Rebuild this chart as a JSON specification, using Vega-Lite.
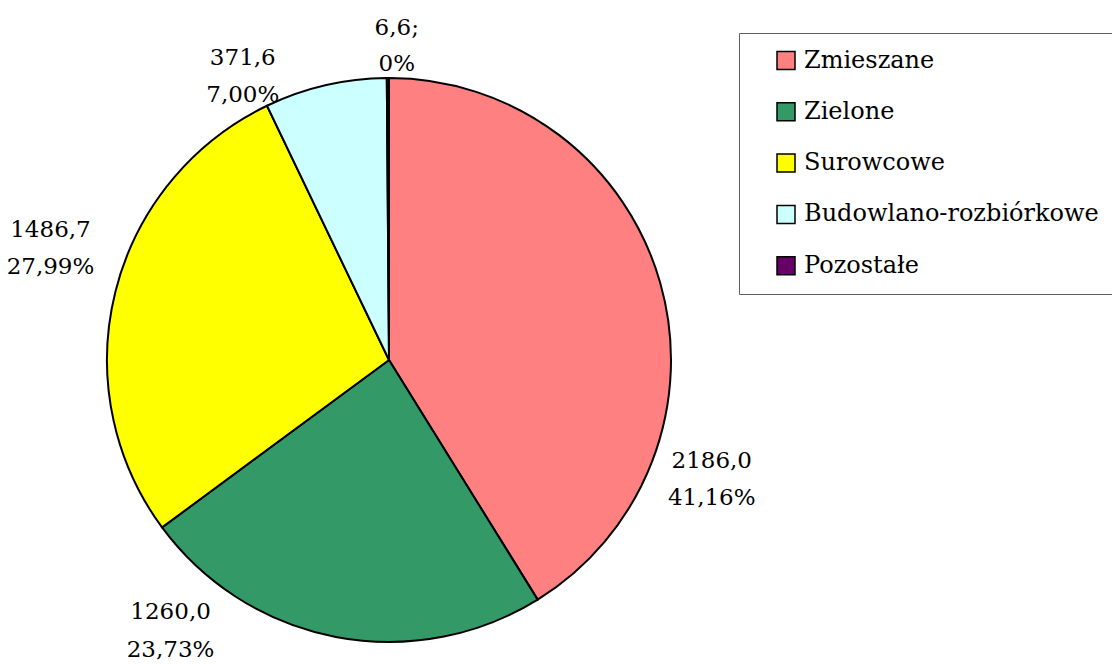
{
  "$schema": "https://vega.github.io/schema/vega-lite/v6.json",
  "width": 564,
  "height": 564,
  "autosize": {"type": "none"},
  "padding": {"left": 107, "top": 78, "right": 441, "bottom": 22},
  "background": "white",
  "data": {
    "values": [
      {"cat": "Zmieszane", "value": 2186.0, "ord": 1, "lbl": ["2186,0", "41,16%"]},
      {"cat": "Zielone", "value": 1260.0, "ord": 2, "lbl": ["1260,0", "23,73%"]},
      {"cat": "Surowcowe", "value": 1486.7, "ord": 3, "lbl": ["1486,7", "27,99%"]},
      {"cat": "Budowlano-rozbiórkowe", "value": 371.6, "ord": 4, "lbl": ["371,6", "7,00%"]},
      {"cat": "Pozostałe", "value": 6.6, "ord": 5, "lbl": ["6,6;", "0%"]}
    ]
  },
  "encoding": {
    "theta": {"field": "value", "type": "quantitative", "stack": true},
    "order": {"field": "ord", "type": "quantitative", "sort": "ascending"}
  },
  "layer": [
    {
      "mark": {"type": "arc", "stroke": "black", "strokeWidth": 2, "outerRadius": 282},
      "encoding": {
        "color": {
          "field": "cat",
          "type": "nominal",
          "scale": {
            "domain": ["Zmieszane", "Zielone", "Surowcowe", "Budowlano-rozbiórkowe", "Pozostałe"],
            "range": ["#FF8080", "#339966", "#FFFF00", "#CCFFFF", "#660066"]
          },
          "legend": {
            "title": null,
            "orient": "none",
            "direction": "vertical",
            "legendX": 632,
            "legendY": -45,
            "padding": 15.5,
            "symbolOffset": 19.5,
            "rowPadding": 27.3,
            "labelFont": "DejaVu Serif",
            "labelFontSize": 24,
            "labelColor": "black",
            "labelOffset": 6,
            "labelLimit": 0,
            "symbolType": "square",
            "symbolSize": 324,
            "symbolStrokeColor": "black",
            "symbolStrokeWidth": 1.5,
            "strokeColor": "#606060",
            "fillColor": "white"
          }
        }
      }
    },
    {
      "mark": {"type": "text", "radius": 320, "dx": 15, "dy": 189, "font": "DejaVu Serif", "fontSize": 23, "lineHeight": 37, "color": "black"},
      "encoding": {
        "detail": {"field": "cat"},
        "text": {"condition": {"test": "datum.cat === 'Zmieszane'", "field": "lbl"}, "value": ""}
      }
    },
    {
      "mark": {"type": "text", "radius": 320, "dx": -158, "dy": -62, "font": "DejaVu Serif", "fontSize": 23, "lineHeight": 38, "color": "black"},
      "encoding": {
        "detail": {"field": "cat"},
        "text": {"condition": {"test": "datum.cat === 'Zielone'", "field": "lbl"}, "value": ""}
      }
    },
    {
      "mark": {"type": "text", "radius": 320, "dx": -28, "dy": -53, "font": "DejaVu Serif", "fontSize": 23, "lineHeight": 37, "color": "black"},
      "encoding": {
        "detail": {"field": "cat"},
        "text": {"condition": {"test": "datum.cat === 'Surowcowe'", "field": "lbl"}, "value": ""}
      }
    },
    {
      "mark": {"type": "text", "radius": 320, "dx": -74, "dy": 10, "font": "DejaVu Serif", "fontSize": 23, "lineHeight": 37, "color": "black"},
      "encoding": {
        "detail": {"field": "cat"},
        "text": {"condition": {"test": "datum.cat === 'Budowlano-rozbiórkowe'", "field": "lbl"}, "value": ""}
      }
    },
    {
      "mark": {"type": "text", "radius": 320, "dx": 9, "dy": -12, "font": "DejaVu Serif", "fontSize": 23, "lineHeight": 36, "color": "black"},
      "encoding": {
        "detail": {"field": "cat"},
        "text": {"condition": {"test": "datum.cat === 'Pozostałe'", "field": "lbl"}, "value": ""}
      }
    }
  ],
  "config": {"view": {"stroke": null}, "font": "DejaVu Serif"}
}
